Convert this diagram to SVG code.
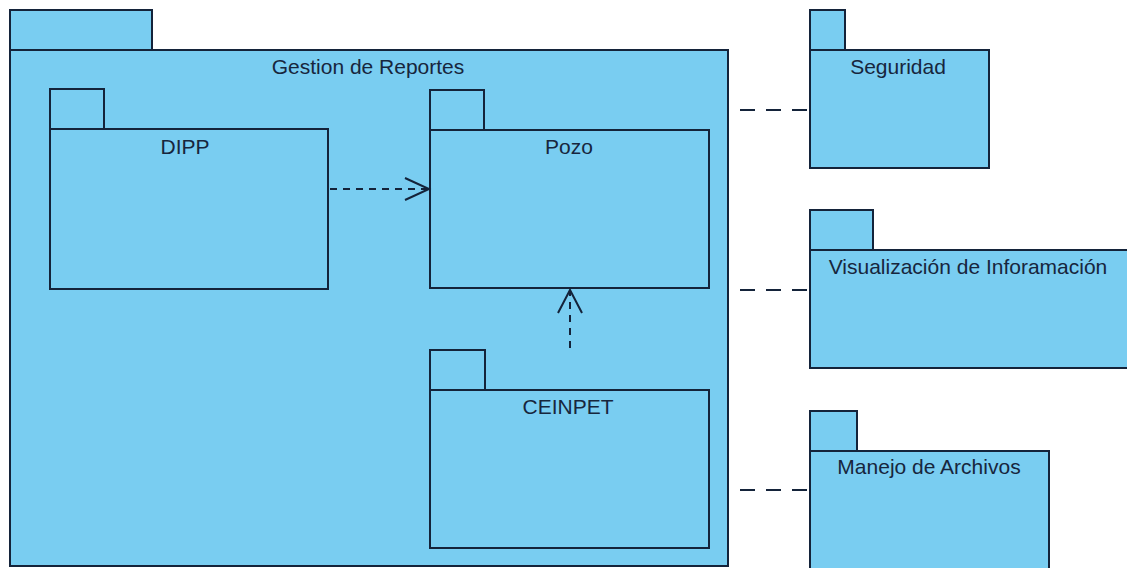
<svg xmlns="http://www.w3.org/2000/svg" width="1127" height="568" viewBox="0 0 1127 568">
<style>
.pk{fill:#79CDF1;stroke:#14233a;stroke-width:2}
.lbl{font-family:"Liberation Sans",Arial,sans-serif;font-size:21px;fill:#17263d;text-anchor:middle}
.dep{fill:none;stroke:#14233a;stroke-width:2;stroke-dasharray:7 6}
.usr{fill:none;stroke:#14233a;stroke-width:2;stroke-dasharray:15 11}
.head{fill:none;stroke:#14233a;stroke-width:2}
</style>
<rect width="1127" height="568" fill="#ffffff"/>
<g id="gestion">
<rect class="pk" x="10" y="10" width="142" height="40"/>
<rect class="pk" x="10" y="50" width="718" height="516"/>
<text class="lbl" x="368" y="74">Gestion de Reportes</text>
</g>
<g id="dipp">
<rect class="pk" x="50" y="89" width="54" height="40"/>
<rect class="pk" x="50" y="129" width="278" height="160"/>
<text class="lbl" x="185" y="154">DIPP</text>
</g>
<g id="pozo">
<rect class="pk" x="430" y="90" width="54" height="40"/>
<rect class="pk" x="430" y="130" width="279" height="158"/>
<text class="lbl" x="569" y="154">Pozo</text>
</g>
<g id="ceinpet">
<rect class="pk" x="430" y="350" width="55" height="40"/>
<rect class="pk" x="430" y="390" width="279" height="158"/>
<text class="lbl" x="568" y="414">CEINPET</text>
</g>
<g id="seguridad">
<rect class="pk" x="810" y="10" width="35" height="40"/>
<rect class="pk" x="810" y="50" width="179" height="118"/>
<text class="lbl" x="898" y="74">Seguridad</text>
</g>
<g id="visualizacion">
<rect class="pk" x="810" y="210" width="63" height="40"/>
<rect class="pk" x="810" y="250" width="330" height="118"/>
<text class="lbl" x="968" y="274">Visualización de Inforamación</text>
</g>
<g id="manejo">
<rect class="pk" x="810" y="411" width="47" height="40"/>
<rect class="pk" x="810" y="451" width="239" height="130"/>
<text class="lbl" x="929" y="474">Manejo de Archivos</text>
</g>
<g id="connectors">
<line class="dep" x1="330" y1="189" x2="428" y2="189"/>
<polyline class="head" points="405,178 429,189 405,200"/>
<line class="dep" x1="570" y1="348" x2="570" y2="292"/>
<polyline class="head" points="558,313 570,290 582,313"/>
<line class="usr" x1="740" y1="110" x2="810" y2="110"/>
<line class="usr" x1="740" y1="290" x2="810" y2="290"/>
<line class="usr" x1="740" y1="490" x2="810" y2="490"/>
</g>
</svg>
